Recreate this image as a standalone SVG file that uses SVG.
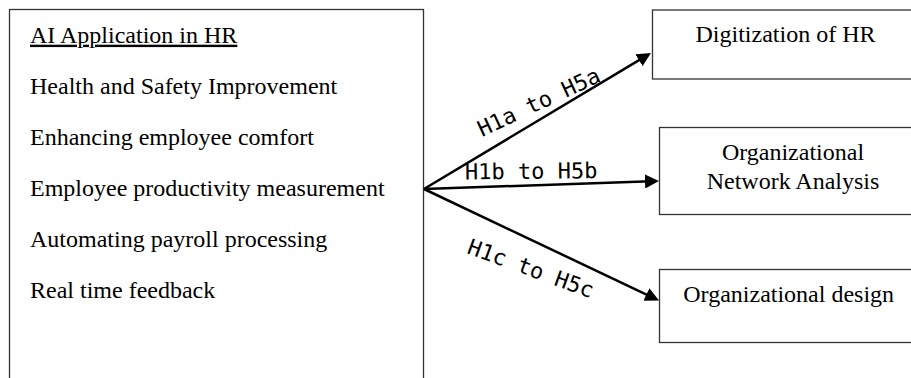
<svg xmlns="http://www.w3.org/2000/svg" width="911" height="378" viewBox="0 0 911 378">
<style>
.box{fill:#fff;stroke:#333;stroke-width:1.3}
.t{font-family:"Liberation Serif","Times New Roman",serif;font-size:24px;fill:#000}
.c{text-anchor:middle}
.lbl{font-family:"DejaVu Sans Mono",monospace;font-size:22px;fill:#000}
.arr{fill:none;stroke:#000;stroke-width:2.5;marker-end:url(#ah)}
</style>
<defs>
<marker id="ah" markerUnits="userSpaceOnUse" markerWidth="14" markerHeight="14" refX="6" refY="7" orient="auto" viewBox="0 0 14 14">
<path d="M0,0 L14,7 L0,14 z" fill="#000"/>
</marker>
</defs>
<rect width="911" height="378" fill="#fff"/>
<g id="ai-application">
<rect class="box" x="9.5" y="9.5" width="414" height="400"/>
<text class="t" x="30" y="42.7" text-decoration="underline">AI Application in HR</text>
<text class="t" x="30" y="94">Health and Safety Improvement</text>
<text class="t" x="30" y="145">Enhancing employee comfort</text>
<text class="t" x="30" y="196">Employee productivity measurement</text>
<text class="t" x="30" y="247.3">Automating payroll processing</text>
<text class="t" x="30" y="298.3">Real time feedback</text>
</g>
<g id="digitization">
<rect class="box" x="652.5" y="10" width="300" height="69"/>
<text class="t c" x="785.5" y="42.3">Digitization of HR</text>
</g>
<g id="ona">
<rect class="box" x="659.5" y="127.5" width="300" height="87"/>
<text class="t c" x="793" y="160">Organizational</text>
<text class="t c" x="793" y="189">Network Analysis</text>
</g>
<g id="org-design">
<rect class="box" x="659.5" y="269.5" width="300" height="73"/>
<text class="t c" x="788.7" y="301.7">Organizational design</text>
</g>
<g id="connectors">
<path class="arr" d="M424,189 L644.1,57.1"/>
<path class="arr" d="M424,189 L651,181.3"/>
<path class="arr" d="M424,189 L651.8,297.1"/>
<text class="lbl" transform="translate(482,137) rotate(-25)">H1a to H5a</text>
<text class="lbl" transform="translate(465,179.5) rotate(-0.6)">H1b to H5b</text>
<text class="lbl" transform="translate(466,253) rotate(20)">H1c to H5c</text>
</g>
</svg>
